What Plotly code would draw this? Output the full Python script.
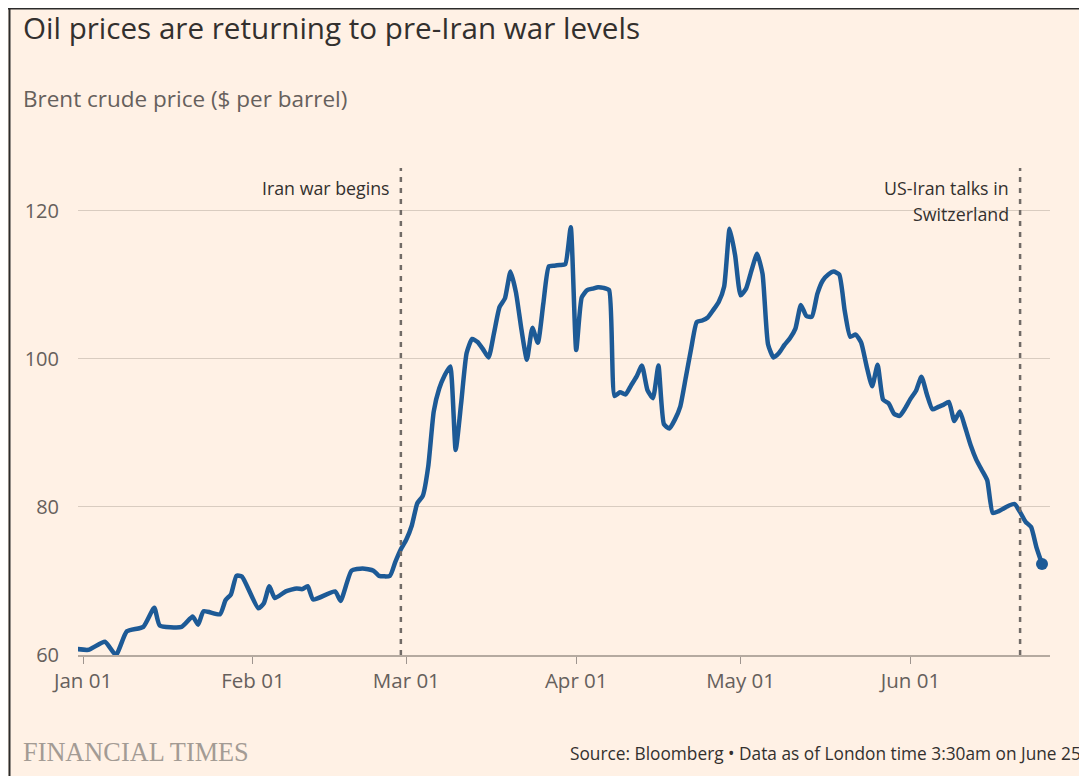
import plotly.graph_objects as go

# ---------------- data ----------------
dates = [
    "2025-12-31", "2026-01-02", "2026-01-05", "2026-01-07", "2026-01-09", "2026-01-12",
    "2026-01-14", "2026-01-15", "2026-01-19", "2026-01-21", "2026-01-22", "2026-01-23",
    "2026-01-26", "2026-01-27", "2026-01-28", "2026-01-29", "2026-01-30", "2026-02-02",
    "2026-02-03", "2026-02-04", "2026-02-05", "2026-02-07", "2026-02-09", "2026-02-10",
    "2026-02-11", "2026-02-12", "2026-02-16", "2026-02-17", "2026-02-19", "2026-02-21",
    "2026-02-23", "2026-02-24", "2026-02-26", "2026-02-27", "2026-02-28", "2026-03-01",
    "2026-03-02", "2026-03-03", "2026-03-04", "2026-03-05", "2026-03-06", "2026-03-07",
    "2026-03-08", "2026-03-09", "2026-03-10", "2026-03-11", "2026-03-12", "2026-03-13",
    "2026-03-14", "2026-03-15", "2026-03-16", "2026-03-17", "2026-03-18", "2026-03-19",
    "2026-03-20", "2026-03-21", "2026-03-22", "2026-03-23", "2026-03-24", "2026-03-25",
    "2026-03-26", "2026-03-27", "2026-03-28", "2026-03-29", "2026-03-30", "2026-03-31",
    "2026-04-01", "2026-04-02", "2026-04-03", "2026-04-04", "2026-04-05", "2026-04-06",
    "2026-04-07", "2026-04-08", "2026-04-09", "2026-04-10", "2026-04-11", "2026-04-12",
    "2026-04-13", "2026-04-14", "2026-04-15", "2026-04-16", "2026-04-17", "2026-04-18",
    "2026-04-19", "2026-04-20", "2026-04-21", "2026-04-22", "2026-04-23", "2026-04-24",
    "2026-04-25", "2026-04-26", "2026-04-27", "2026-04-28", "2026-04-29", "2026-04-30",
    "2026-05-01", "2026-05-02", "2026-05-03", "2026-05-04", "2026-05-05", "2026-05-06",
    "2026-05-07", "2026-05-08", "2026-05-09", "2026-05-10", "2026-05-11", "2026-05-12",
    "2026-05-13", "2026-05-14", "2026-05-15", "2026-05-16", "2026-05-17", "2026-05-18",
    "2026-05-19", "2026-05-20", "2026-05-21", "2026-05-22", "2026-05-23", "2026-05-24",
    "2026-05-25", "2026-05-26", "2026-05-27", "2026-05-28", "2026-05-29", "2026-05-30",
    "2026-05-31", "2026-06-01", "2026-06-02", "2026-06-03", "2026-06-04", "2026-06-05",
    "2026-06-06", "2026-06-07", "2026-06-08", "2026-06-09", "2026-06-10", "2026-06-11",
    "2026-06-12", "2026-06-13", "2026-06-14", "2026-06-15", "2026-06-16", "2026-06-17",
    "2026-06-18", "2026-06-19", "2026-06-20", "2026-06-21", "2026-06-22", "2026-06-23",
    "2026-06-24", "2026-06-25",
]
brent = [
    60.8, 60.7, 61.8, 60.0, 63.2, 63.8,
    66.4, 64.0, 63.8, 65.2, 64.1, 65.9,
    65.5, 67.4, 68.2, 70.7, 70.6, 66.3,
    67.0, 69.3, 67.7, 68.6, 69.0, 68.9,
    69.3, 67.5, 68.6, 67.3, 71.4, 71.7,
    71.4, 70.7, 70.7, 72.6, 74.3, 75.6,
    77.5, 80.5, 81.5, 85.5, 92.9, 96.0,
    97.8, 99.0, 87.7, 94.0, 100.8, 102.7,
    102.3, 101.3, 100.2, 103.5, 107.0, 108.2,
    111.8, 109.0, 104.0, 99.9, 104.2, 102.2,
    107.5, 112.5, 112.6, 112.7, 112.8, 117.8,
    101.2, 108.3, 109.3, 109.5, 109.7, 109.6,
    109.3, 95.0, 95.5, 95.2, 96.4, 97.6,
    99.1, 95.8, 94.7, 99.1, 91.2, 90.6,
    91.8, 93.6, 97.5, 101.5, 105.0, 105.2,
    105.6, 106.6, 107.7, 109.8, 117.6, 114.0,
    108.6, 109.5, 112.0, 114.2, 111.5, 102.0,
    100.2, 100.8, 101.9, 102.8, 104.1, 107.3,
    105.8, 105.7, 108.8, 110.6, 111.4, 111.8,
    111.4, 106.5, 103.0, 103.3, 102.2, 99.0,
    96.3, 99.2, 94.5, 94.0, 92.6, 92.3,
    93.3, 94.6, 95.7, 97.6, 95.2, 93.2,
    93.5, 93.8, 94.2, 91.6, 92.9, 90.7,
    88.3, 86.4, 85.0, 83.6, 79.2, 79.4,
    79.8, 80.2, 80.4, 79.3, 78.0, 77.3,
    74.5, 72.3,
]

y_ticks = [60, 80, 100, 120]
x_ticks = ["2026-01-01", "2026-02-01", "2026-03-01", "2026-04-01", "2026-05-01", "2026-06-01"]

event_dates = ["2026-02-28", "2026-06-21"]
event_labels = [["Iran war begins"], ["US-Iran talks in", "Switzerland"]]

title = "Oil prices are returning to pre-Iran war levels"
subtitle = "Brent crude price ($ per barrel)"
source = "Source: Bloomberg \u2022 Data as of London time 3:30am on June 25"
brand = "FINANCIAL TIMES"

# ---------------- layout geometry (figure pixels; page body adds 8px offset) ----------------
W, H = 1079, 768
ML, MR, MT, MB = 70, 37, 160, 121
PW, PH = W - ML - MR, H - MT - MB


def px(x):
    return (x - ML) / PW


def py(y):
    return (H - MB - y) / PH


BG = "#FFF1E5"
LINE = "#1d5a96"
TXT = "#66605c"
DARK = "#33302e"
FONT = "Open Sans"

fig = go.Figure()
fig.add_trace(go.Scatter(
    x=dates, y=brent, mode="lines",
    line=dict(color=LINE, width=4.5, shape="spline", smoothing=0.5),
    hoverinfo="skip", showlegend=False,
))
fig.add_trace(go.Scatter(
    x=[dates[-1]], y=[brent[-1]], mode="markers",
    marker=dict(color=LINE, size=12),
    hoverinfo="skip", showlegend=False,
))

shapes = [
    dict(type="rect", xref="paper", yref="paper", x0=px(0), x1=px(W), y0=py(H), y1=py(0),
         fillcolor=BG, line=dict(width=0), layer="below"),
    dict(type="line", xref="paper", yref="paper", x0=px(1.5), x1=px(1.5), y0=py(H), y1=py(0),
         line=dict(color="#2b2b2b", width=2)),
    dict(type="line", xref="paper", yref="paper", x0=px(0), x1=px(W), y0=py(0.5), y1=py(0.5),
         line=dict(color="#2b2b2b", width=2)),
]
for d in event_dates:
    shapes.append(dict(type="line", xref="x", yref="paper", x0=d, x1=d, y0=0, y1=1,
                       line=dict(color="#716b67", width=2.5, dash="5px,6px"), layer="above"))

annotations = [
    dict(text=title, xref="paper", yref="paper", x=px(13), y=py(20), xanchor="left", yanchor="middle",
         showarrow=False, font=dict(family=FONT, size=29.6, color=DARK)),
    dict(text=subtitle, xref="paper", yref="paper", x=px(13), y=py(91), xanchor="left", yanchor="middle",
         showarrow=False, font=dict(family=FONT, size=22.5, color=TXT)),
    dict(text=brand, xref="paper", yref="paper", x=px(13), y=py(744), xanchor="left", yanchor="middle",
         showarrow=False, font=dict(family="Liberation Serif", size=26.3, color="#a39b94")),
    dict(text=source, xref="paper", yref="paper", x=px(W - 4), y=py(745), xanchor="right", yanchor="middle",
         showarrow=False, font=dict(family=FONT, size=17.3, color=DARK)),
]
for d, lines in zip(event_dates, event_labels):
    for i, lab in enumerate(lines):
        annotations.append(dict(text=lab, xref="x", yref="paper", x=d, y=py(180 + 26 * i),
                                xanchor="right", yanchor="middle", xshift=-9, showarrow=False,
                                font=dict(family=FONT, size=17.8, color=DARK)))

fig.update_layout(
    width=W, height=H,
    margin=dict(l=ML, r=MR, t=MT, b=MB, pad=0),
    paper_bgcolor="white",
    plot_bgcolor="rgba(0,0,0,0)",
    shapes=shapes,
    annotations=annotations,
    showlegend=False,
    xaxis=dict(
        type="date",
        range=["2025-12-31 02:00", "2026-06-26 11:00"],
        tickvals=x_ticks, tickformat="%b %d",
        ticks="outside", ticklen=7, tickwidth=1, tickcolor="#9e958f",
        showgrid=False, zeroline=False,
        showline=True, linecolor="#b5aaa0", linewidth=1.5,
        tickfont=dict(family=FONT, size=20.5, color=TXT),
        fixedrange=True,
    ),
    yaxis=dict(
        range=[60, 125.8],
        tickvals=y_ticks,
        showgrid=True, gridcolor="#d9ccc0", gridwidth=1,
        zeroline=False, showline=False, ticks="",
        ticklabelstandoff=18,
        tickfont=dict(family=FONT, size=20, color=TXT),
        fixedrange=True,
    ),
)

fig.write_html("out.html")
